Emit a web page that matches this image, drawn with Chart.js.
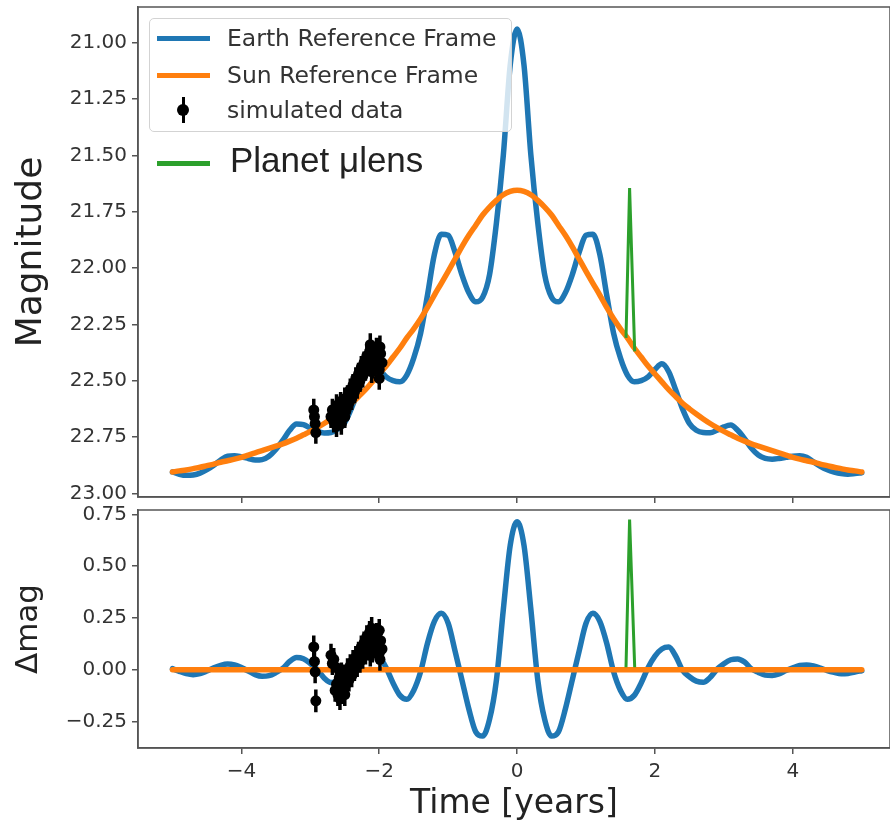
<!DOCTYPE html>
<html>
<head>
<title>Earth vs Sun Reference Frame Light Curve</title>
<script src="https://cdn.jsdelivr.net/npm/chart.js"></script>
<style>
    body {
        margin: 0;
        background: #fff;
        font-family: 'DejaVu Sans', sans-serif;
    }
    #wrap { position: relative; width: 890px; height: 830px; overflow: hidden; }
    .panel { position: absolute; left: 0; width: 890px; }
    #topPanel { top: 0; height: 506px; }
    #botPanel { top: 500px; height: 330px; }
    .legend {
        position: absolute; left: 149px; top: 18px; width: 361px; height: 112px;
        border: 1px solid #d3d3d3; border-radius: 5px;
        background: rgba(255,255,255,0.8); z-index: 2;
    }
    .swatch { position: absolute; left: 157px; width: 53px; height: 5px; z-index: 3; }
    .label {
        position: absolute; left: 227px; height: 28px; line-height: 28px;
        font-size: 23.5px; color: #333; white-space: nowrap; z-index: 3;
    }
    .marker { position: absolute; left: 177px; top: 104px; width: 12px; height: 12px; border-radius: 50%; background: #000; z-index: 3; }
    .ebar { position: absolute; left: 181.5px; top: 97px; width: 3px; height: 26px; background: #000; z-index: 3; }
    .planet {
        position: absolute; left: 230px; top: 140px; height: 40px; line-height: 40px;
        font-family: 'Liberation Sans', Arial, sans-serif; font-size: 35px; color: #222;
        white-space: nowrap; z-index: 3;
    }
</style>
</head>
<body>
<div id="wrap">
    <div class="panel" id="topPanel"><canvas id="magChart"></canvas></div>
    <div class="panel" id="botPanel"><canvas id="deltaChart"></canvas></div>

    <div class="legend"></div>
    <div class="swatch" style="top:35.5px;background:#1f77b4"></div>
    <div class="label" style="top:24px">Earth Reference Frame</div>
    <div class="swatch" style="top:72.5px;background:#ff7f0e"></div>
    <div class="label" style="top:61px">Sun Reference Frame</div>
    <div class="ebar"></div>
    <div class="marker"></div>
    <div class="label" style="top:96px">simulated data</div>
    <div class="swatch" style="top:160.5px;background:#2ca02c"></div>
    <div class="planet">Planet μlens</div>
</div>

<script>
// time grid the model curves were read on (years)
const timeGrid = [
    -5.0, -4.9, -4.8, -4.7, -4.6, -4.5, -4.4, -4.3, -4.2, -4.1,
    -4.0, -3.9, -3.8, -3.7, -3.6, -3.5, -3.4, -3.3, -3.2, -3.1,
    -3.0, -2.9, -2.8, -2.7, -2.6, -2.5, -2.4, -2.3, -2.2, -2.1,
    -2.0, -1.9, -1.8, -1.7, -1.6, -1.5, -1.4, -1.3, -1.2, -1.1,
    -1.0, -0.9, -0.8, -0.7, -0.6, -0.5, -0.4, -0.3, -0.2, -0.1,
    0.0,
    0.1, 0.2, 0.3, 0.4, 0.5, 0.6, 0.7, 0.8, 0.9, 1.0,
    1.1, 1.2, 1.3, 1.4, 1.5, 1.6, 1.7, 1.8, 1.9, 2.0,
    2.1, 2.2, 2.3, 2.4, 2.5, 2.6, 2.7, 2.8, 2.9, 3.0,
    3.1, 3.2, 3.3, 3.4, 3.5, 3.6, 3.7, 3.8, 3.9, 4.0,
    4.1, 4.2, 4.3, 4.4, 4.5, 4.6, 4.7, 4.8, 4.9, 5.0
];

const earthMag = [
    22.905, 22.915, 22.920, 22.918, 22.910, 22.895, 22.875, 22.852, 22.835, 22.833,
    22.838, 22.845, 22.852, 22.850, 22.835, 22.805, 22.765, 22.720, 22.692, 22.695,
    22.710, 22.725, 22.732, 22.730, 22.715, 22.685, 22.620, 22.540, 22.460, 22.425,
    22.450, 22.483, 22.500, 22.505, 22.475, 22.400, 22.290, 22.120, 21.940, 21.850,
    21.855, 21.930, 22.030, 22.110, 22.150, 22.130, 22.030, 21.800, 21.500, 21.100,
    20.940,
    21.100, 21.500, 21.800, 22.030, 22.130, 22.150, 22.110, 22.030, 21.930, 21.855,
    21.850, 21.940, 22.120, 22.290, 22.400, 22.475, 22.505, 22.500, 22.483, 22.450,
    22.425, 22.460, 22.540, 22.625, 22.690, 22.720, 22.730, 22.731, 22.720, 22.705,
    22.697, 22.720, 22.757, 22.800, 22.830, 22.845, 22.848, 22.845, 22.840, 22.835,
    22.833, 22.840, 22.860, 22.880, 22.895, 22.905, 22.912, 22.915, 22.912, 22.908
];

const sunMag = [
    22.905, 22.900, 22.896, 22.890, 22.884, 22.877, 22.870, 22.862, 22.855, 22.848,
    22.840, 22.830, 22.820, 22.810, 22.800, 22.790, 22.780, 22.768, 22.755, 22.740,
    22.725, 22.708, 22.690, 22.670, 22.648, 22.625, 22.600, 22.570, 22.540, 22.505,
    22.470, 22.435, 22.395, 22.355, 22.310, 22.270, 22.225, 22.175, 22.120, 22.068,
    22.015, 21.960, 21.905, 21.855, 21.810, 21.765, 21.730, 21.700, 21.675, 21.660,
    21.655,
    21.660, 21.675, 21.700, 21.730, 21.765, 21.810, 21.855, 21.905, 21.960, 22.015,
    22.068, 22.120, 22.175, 22.225, 22.270, 22.310, 22.355, 22.395, 22.435, 22.470,
    22.505, 22.540, 22.570, 22.600, 22.625, 22.648, 22.670, 22.690, 22.708, 22.725,
    22.740, 22.755, 22.768, 22.780, 22.790, 22.800, 22.810, 22.820, 22.830, 22.840,
    22.848, 22.855, 22.862, 22.870, 22.877, 22.884, 22.890, 22.896, 22.900, 22.905
];

const earthDelta = [
    0.005, -0.008, -0.019, -0.024, -0.019, -0.006, 0.009, 0.021, 0.027, 0.023,
    0.010, -0.006, -0.024, -0.032, -0.029, -0.014, 0.006, 0.040, 0.059, 0.053,
    0.030, 0.001, -0.040, -0.062, -0.056, -0.034, -0.002, 0.066, 0.109, 0.100,
    0.066, 0.010, -0.064, -0.124, -0.143, -0.100, -0.010, 0.128, 0.233, 0.272,
    0.224, 0.090, -0.050, -0.190, -0.300, -0.320, -0.240, -0.050, 0.290, 0.600,
    0.714,
    0.600, 0.290, -0.050, -0.240, -0.320, -0.300, -0.190, -0.050, 0.090, 0.224,
    0.272, 0.233, 0.128, -0.010, -0.100, -0.143, -0.124, -0.064, 0.010, 0.066,
    0.100, 0.109, 0.066, -0.002, -0.034, -0.055, -0.061, -0.038, 0.002, 0.029,
    0.048, 0.052, 0.037, 0.004, -0.013, -0.026, -0.028, -0.020, -0.004, 0.009,
    0.020, 0.023, 0.018, 0.008, -0.004, -0.013, -0.020, -0.018, -0.011, -0.005
];

const sunDeltaTime = [-5.0, 5.0];
const sunDelta = [0.0, 0.0];

// short planetary anomaly
const planetTime = [1.58, 1.632, 1.706];
const planetMag = [22.31, 21.645, 22.37];
const planetDelta = [0.012, 0.725, 0.012];

// simulated photometry
const dataTime = [
    -2.95, -2.94, -2.93, -2.92,
    -2.70, -2.68, -2.66, -2.64, -2.62, -2.60, -2.58, -2.56, -2.54, -2.52,
    -2.50, -2.48, -2.46, -2.44, -2.42, -2.40, -2.38, -2.36, -2.34, -2.32,
    -2.30, -2.28, -2.26, -2.24, -2.22, -2.20, -2.18, -2.16, -2.14, -2.12,
    -2.10, -2.08, -2.06, -2.04, -2.02, -2.00, -1.98, -1.96,
    -2.62, -2.55, -2.57, -2.50, -2.13, -1.99, -2.11, -2.00
];
const dataMag = [
    22.63, 22.66, 22.69, 22.73,
    22.66, 22.63, 22.68, 22.65, 22.61, 22.67, 22.64, 22.60, 22.66, 22.62,
    22.58, 22.63, 22.57, 22.60, 22.54, 22.58, 22.52, 22.55, 22.49, 22.53,
    22.47, 22.50, 22.44, 22.48, 22.42, 22.45, 22.39, 22.43, 22.37, 22.41,
    22.44, 22.38, 22.42, 22.36, 22.40, 22.45, 22.38, 22.42,
    22.70, 22.69, 22.62, 22.66, 22.34, 22.35, 22.46, 22.49
];
const dataDelta = [
    0.11, 0.04, -0.01, -0.15,
    0.07, 0.03, 0.05, -0.10, -0.07, -0.12, -0.04, -0.09, -0.06, -0.11,
    -0.03, -0.07, 0.00, -0.05, 0.02, -0.03, 0.04, 0.00, 0.06, 0.02,
    0.08, 0.04, 0.11, 0.06, 0.13, 0.08, 0.16, 0.10, 0.18, 0.12,
    0.09, 0.15, 0.11, 0.17, 0.13, 0.08, 0.14, 0.10,
    0.01, -0.02, -0.14, -0.12, 0.07, 0.05, 0.20, 0.19
];
const magErr = 0.05;
const deltaErr = 0.055;

const magTicks = [21.00, 21.25, 21.50, 21.75, 22.00, 22.25, 22.50, 22.75, 23.00];
const deltaTicks = [-0.25, 0.00, 0.25, 0.50, 0.75];
const timeTicks = [-4, -2, 0, 2, 4];

const BLUE = '#1f77b4', ORANGE = '#ff7f0e', GREEN = '#2ca02c', AXIS = '#555';

Chart.defaults.font.family = "'DejaVu Sans', sans-serif";
Chart.defaults.color = '#333';

function pts(xs, ys) {
    return xs.map((x, i) => ({ x: x, y: ys[i] }));
}

function fmt(v, d) {
    return (v < 0 ? '\u2212' : '') + Math.abs(v).toFixed(d);
}

// full box around the plot area, like matplotlib spines
const framePlugin = {
    id: 'frame',
    afterDraw(chart) {
        const a = chart.chartArea, ctx = chart.ctx;
        ctx.save();
        ctx.strokeStyle = AXIS;
        ctx.lineWidth = 1.5;
        ctx.strokeRect(a.left, a.top, a.right - a.left, a.bottom - a.top);
        ctx.restore();
    }
};

// vertical error bars for datasets carrying yErr
const errorBarPlugin = {
    id: 'errorBars',
    afterDatasetsDraw(chart) {
        const ctx = chart.ctx, xs = chart.scales.x, ys = chart.scales.y, a = chart.chartArea;
        chart.data.datasets.forEach(ds => {
            if (ds.yErr === undefined) return;
            ctx.save();
            ctx.beginPath();
            ctx.rect(a.left, a.top, a.right - a.left, a.bottom - a.top);
            ctx.clip();
            ctx.strokeStyle = '#000';
            ctx.lineWidth = 3.5;
            ctx.beginPath();
            ds.data.forEach(p => {
                const px = xs.getPixelForValue(p.x);
                ctx.moveTo(px, ys.getPixelForValue(p.y - ds.yErr));
                ctx.lineTo(px, ys.getPixelForValue(p.y + ds.yErr));
            });
            ctx.stroke();
            ctx.restore();
        });
    }
};

// the plot box is placed by hand, so drop the label overhang padding
function noOverhang(s) {
    s.paddingTop = 0;
    s.paddingBottom = 0;
    s.paddingLeft = 0;
    s.paddingRight = 0;
}

function xAxis(showLabels) {
    return {
        type: 'linear',
        min: -5.5,
        max: 5.41,
        afterBuildTicks: s => { s.ticks = timeTicks.map(v => ({ value: v })); },
        afterFit: s => { s.height = showLabels ? 82 : 9; noOverhang(s); },
        grid: { drawOnChartArea: false, drawTicks: true, tickLength: 6, color: AXIS, lineWidth: 1.5 },
        border: { display: true, color: AXIS, width: 1.5 },
        ticks: {
            display: showLabels, padding: 6, maxRotation: 0, autoSkip: false,
            color: '#333', font: { size: 20 },
            callback: v => fmt(v, 0)
        },
        title: {
            display: showLabels, text: 'Time [years]', color: '#222',
            font: { size: 33 }, padding: { top: 0, bottom: 6 }
        }
    };
}

function yAxis(min, max, reverse, tickList, titleText, titleSize) {
    return {
        type: 'linear',
        min: min,
        max: max,
        reverse: reverse,
        afterBuildTicks: s => { s.ticks = tickList.map(v => ({ value: v })); },
        afterFit: s => { s.width = 138; noOverhang(s); },
        grid: { drawOnChartArea: false, drawTicks: true, tickLength: 6, color: AXIS, lineWidth: 1.5 },
        border: { display: true, color: AXIS, width: 1.5 },
        ticks: {
            padding: 5, autoSkip: false, color: '#333', font: { size: 20 },
            callback: v => fmt(v, 2)
        },
        title: {
            display: true, text: titleText, color: '#222',
            font: { size: titleSize }, padding: { top: 10, bottom: 0 }
        }
    };
}

const baseOptions = {
    responsive: true,
    maintainAspectRatio: false,
    animation: false,
    plugins: { legend: { display: false }, tooltip: { enabled: false } }
};

new Chart(document.getElementById('magChart'), {
    type: 'line',
    data: {
        datasets: [
            { label: 'simulated data', type: 'scatter', data: pts(dataTime, dataMag), yErr: magErr,
              showLine: false, pointRadius: 5.5, pointBackgroundColor: '#000', pointBorderWidth: 0, order: 0 },
            { label: 'Planet μlens', data: pts(planetTime, planetMag), borderColor: GREEN,
              borderWidth: 3, pointRadius: 0, tension: 0, order: 1 },
            { label: 'Sun Reference Frame', data: pts(timeGrid, sunMag), borderColor: ORANGE,
              borderWidth: 5.5, borderCapStyle: 'round', pointRadius: 0, cubicInterpolationMode: 'monotone', order: 2 },
            { label: 'Earth Reference Frame', data: pts(timeGrid, earthMag), borderColor: BLUE,
              borderWidth: 5.5, borderCapStyle: 'round', pointRadius: 0, cubicInterpolationMode: 'monotone', order: 3 }
        ]
    },
    options: Object.assign({}, baseOptions, {
        layout: { autoPadding: false, padding: { top: 7, left: 0, right: 0, bottom: 0 } },
        scales: {
            x: xAxis(false),
            y: yAxis(20.842, 23.016, true, magTicks, 'Magnitude', 36)
        }
    }),
    plugins: [errorBarPlugin, framePlugin]
});

new Chart(document.getElementById('deltaChart'), {
    type: 'line',
    data: {
        datasets: [
            { label: 'simulated data', type: 'scatter', data: pts(dataTime, dataDelta), yErr: deltaErr,
              showLine: false, pointRadius: 5.5, pointBackgroundColor: '#000', pointBorderWidth: 0, order: 0 },
            { label: 'Planet μlens', data: pts(planetTime, planetDelta), borderColor: GREEN,
              borderWidth: 3, pointRadius: 0, tension: 0, order: 1 },
            { label: 'Sun Reference Frame', data: pts(sunDeltaTime, sunDelta), borderColor: ORANGE,
              borderWidth: 5.5, borderCapStyle: 'round', pointRadius: 0, order: 2 },
            { label: 'Earth Reference Frame', data: pts(timeGrid, earthDelta), borderColor: BLUE,
              borderWidth: 5.5, borderCapStyle: 'round', pointRadius: 0, cubicInterpolationMode: 'monotone', order: 3 }
        ]
    },
    options: Object.assign({}, baseOptions, {
        layout: { autoPadding: false, padding: { top: 10, left: 0, right: 0, bottom: 0 } },
        scales: {
            x: xAxis(true),
            y: yAxis(-0.378, 0.771, false, deltaTicks, '\u0394mag', 31)
        }
    }),
    plugins: [errorBarPlugin, framePlugin]
});
</script>
</body>
</html>
